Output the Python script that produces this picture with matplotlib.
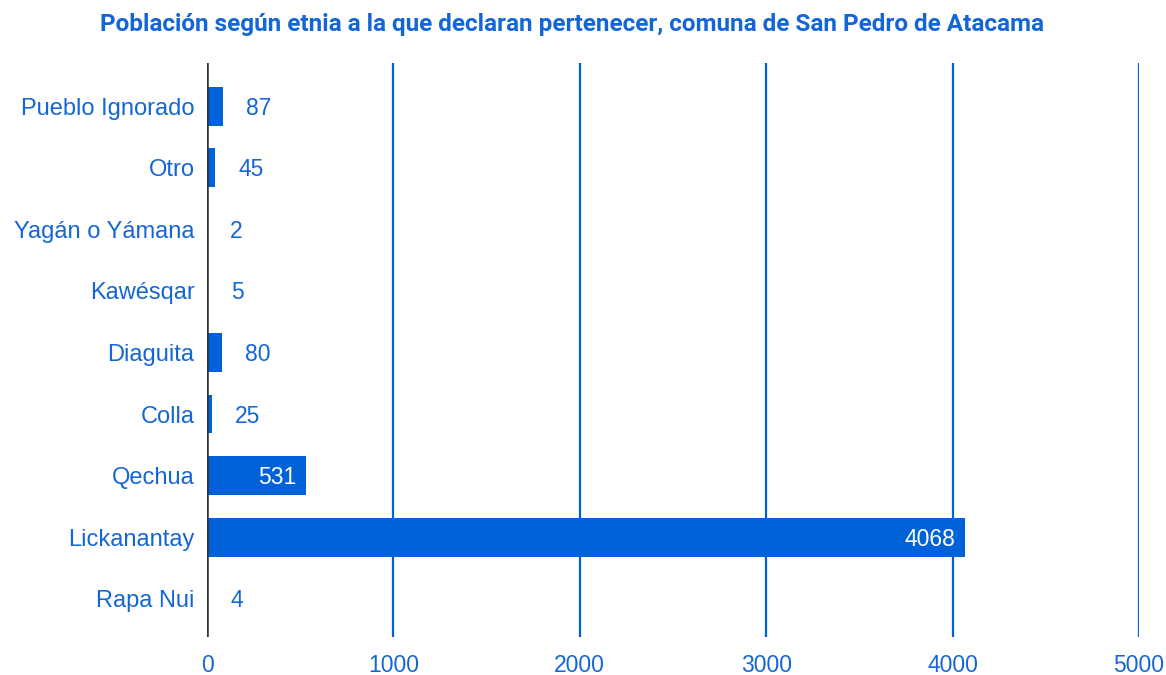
import matplotlib.pyplot as plt
from matplotlib import transforms

categories = ['Pueblo Ignorado', 'Otro', 'Yagán o Yámana', 'Kawésqar', 'Diaguita',
              'Colla', 'Qechua', 'Lickanantay', 'Rapa Nui']
values = [87, 45, 2, 5, 80, 25, 531, 4068, 4]
xticks = [0, 1000, 2000, 3000, 4000, 5000]

bar_color = '#0062D9'
text_color = '#1466D6'

plt.rcParams['font.family'] = ['Liberation Sans', 'DejaVu Sans']

fig = plt.figure(figsize=(11.66, 6.75), dpi=100)
ax = fig.add_axes([207 / 1166, 1 - 637 / 675, (1139 - 207) / 1166, (637 - 63) / 675])

positions = list(range(len(categories)))
ax.barh(positions, values, height=0.63, color=bar_color, zorder=3)

ax.set_xlim(0, 5000)
ax.set_ylim(8.62, -0.70)
ax.set_xticks(xticks)
ax.set_xticklabels([str(t) for t in xticks])
ax.set_yticks(positions)
ax.set_yticklabels(categories)

ax.grid(axis='x', color=bar_color, linewidth=1.6, zorder=1)
ax.axvline(0, color='#333333', linewidth=1.8, zorder=4)
for s in ax.spines.values():
    s.set_visible(False)
ax.tick_params(axis='both', length=0, labelcolor=text_color)
ax.tick_params(axis='y', pad=9, labelsize=17)
ax.tick_params(axis='x', pad=12, labelsize=16.5)

# value labels: inside (white) for long bars, outside for short ones
for p, v in zip(positions, values):
    if v > 300:
        off = transforms.offset_copy(ax.transData, fig=fig, x=-10, y=-2, units='dots')
        ax.text(v, p, str(v), transform=off, ha='right', va='center',
                color='white', fontsize=16.5, zorder=5)
    else:
        off = transforms.offset_copy(ax.transData, fig=fig, x=23, y=-2, units='dots')
        ax.text(v, p, str(v), transform=off, ha='left', va='center',
                color=text_color, fontsize=16.5, zorder=5)

fig.text(572.5 / 1166, 1 - 25 / 675, 'Población según etnia a la que declaran pertenecer, comuna de San Pedro de Atacama',
         ha='center', va='center', fontsize=17.5, fontweight='bold', color=text_color,
         family=['Roboto', 'DejaVu Sans'])

fig.savefig('out.png', dpi=100)
